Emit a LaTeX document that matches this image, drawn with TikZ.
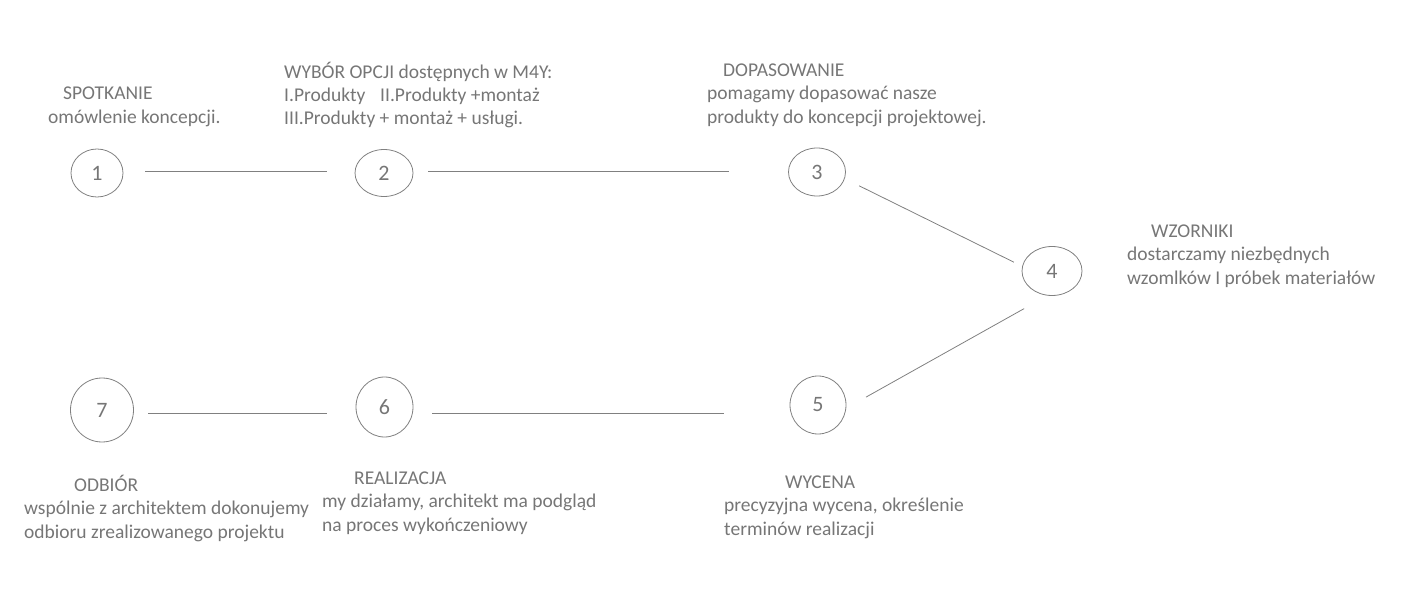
\documentclass[tikz,border=0pt]{standalone}
\usepackage{fontspec}
\setmainfont{Carlito}
\usetikzlibrary{shapes.geometric}
\definecolor{txtgray}{RGB}{118,118,118}
\definecolor{lngray}{RGB}{128,128,128}
\begin{document}
\begin{tikzpicture}[x=1pt,y=-1pt,
    krok/.style={ellipse,draw=lngray,line width=0.8pt,inner sep=0pt,text=txtgray,font=\fontsize{22}{26}\selectfont},
    opis/.style={anchor=base west,align=left,inner sep=0pt,text=txtgray,font=\fontsize{19.5}{23.5}\selectfont},
    lacz/.style={draw=lngray,line width=0.8pt}]
            \useasboundingbox (0,0) rectangle (1422,607);
            \node[krok,minimum width=52pt,minimum height=48pt] (A) at (97,173) {1};
            \node[krok,minimum width=58pt,minimum height=47pt] (B) at (384,173) {2};
            \node[krok,minimum width=57pt,minimum height=48pt] (C) at (817,172) {3};
            \node[krok,minimum width=60pt,minimum height=49pt] (D) at (1052,271) {4};
            \node[krok,minimum width=56pt,minimum height=58pt] (E) at (818,405) {5};
            \node[krok,minimum width=57pt,minimum height=60pt] (F) at (384.5,407) {6};
            \node[krok,minimum width=63pt,minimum height=64pt] (G) at (102,410) {7};

            \node[opis] (TA) at (48,123.5) {\hspace*{15pt}SPOTKANIE\\omówlenie koncepcji.};
            \node[opis] (TB) at (284,125) {WYBÓR OPCJI dostępnych w M4Y:\\\makebox[96pt][l]{I.Produkty}II.Produkty +montaż\\III.Produkty + montaż + usługi.};
            \node[opis] (TC) at (707,123.5) {\hspace*{16pt}DOPASOWANIE\\pomagamy dopasować nasze\\produkty do koncepcji projektowej.};
            \node[opis] (TD) at (1127,284) {\hspace*{24pt}WZORNIKI\\dostarczamy niezbędnych\\wzomlków I próbek materiałów};
            \node[opis] (TE) at (724,535) {\hspace*{61pt}WYCENA\\precyzyjna wycena, określenie\\terminów realizacji};
            \node[opis] (TF) at (322,531) {\hspace*{32pt}REALIZACJA\\my działamy, architekt ma podgląd\\na proces wykończeniowy};
            \node[opis] (TG) at (24,538) {\hspace*{50pt}ODBIÓR\\wspólnie z architektem dokonujemy\\odbioru zrealizowanego projektu};

            \draw[lacz,shorten <=22pt,shorten >=28pt] ([yshift=2pt]A.east) -- ([yshift=2pt]B.west);
            \draw[lacz,shorten <=15pt,shorten >=59.5pt] ([yshift=2pt]B.east) -- ([yshift=1pt]C.west);
            \draw[lacz,shorten <=47pt,shorten >=42.5pt] ([yshift=7pt]C.center) -- ([yshift=-10pt]D.center);
            \draw[lacz,shorten <=32pt,shorten >=55pt] ([yshift=-22pt]D.center) -- ([yshift=-19pt]E.center);
            \draw[lacz,shorten <=66pt,shorten >=19pt] ([yshift=-8pt]E.west) -- ([yshift=-6pt]F.east);
            \draw[lacz,shorten <=29pt,shorten >=14.5pt] ([yshift=-6pt]F.west) -- ([yshift=-3pt]G.east);
\end{tikzpicture}
\end{document}
